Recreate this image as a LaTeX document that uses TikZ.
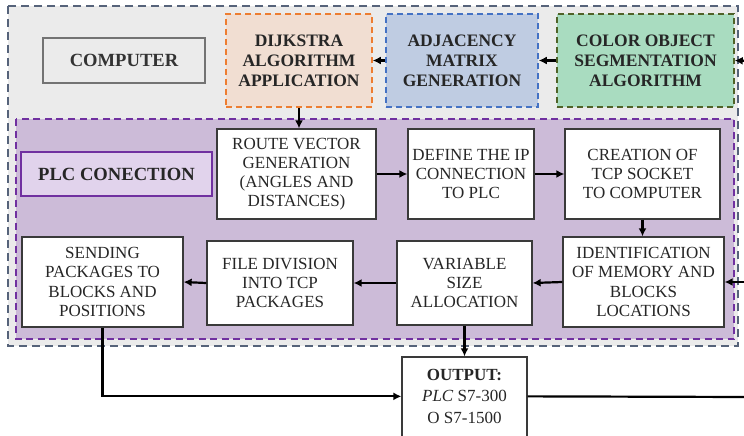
\documentclass[tikz,border=0pt]{standalone}
\usepackage{fontspec}
\setmainfont{Liberation Serif}
\usetikzlibrary{arrows.meta}
\definecolor{outerbg}{HTML}{EBEBEB}
\definecolor{outerln}{HTML}{56637A}
\definecolor{plcbg}{HTML}{CCBBD8}
\definecolor{plcln}{HTML}{7030A0}
\definecolor{plclab}{HTML}{E1D3EC}
\definecolor{orgbg}{HTML}{F1DED2}
\definecolor{orgln}{HTML}{ED7D31}
\definecolor{blubg}{HTML}{BFCCE2}
\definecolor{bluln}{HTML}{4472C4}
\definecolor{grnbg}{HTML}{A9DCC0}
\definecolor{grnln}{HTML}{4F6228}
\definecolor{boxln}{HTML}{3A3A3A}
\tikzset{
  topbox/.style={draw, line width=1.5pt, dash pattern=on 6pt off 4pt, align=center, inner sep=0pt,
    font=\fontsize{17.5}{20}\selectfont\bfseries, text=black!85},
  wbox/.style={draw=boxln, line width=1.3pt, fill=white, align=center, inner sep=0pt,
    font=\fontsize{17}{19.2}\selectfont, text=black!85},
  arr/.style={line width=2.2pt, -{Latex[length=8pt,width=8pt]}},
  ln/.style={line width=2.2pt},
}
\begin{document}
\begin{tikzpicture}[x=1pt,y=-1pt]
\useasboundingbox (0,0) rectangle (744,436);
\clip (0,0) rectangle (744,436);
\fill[white] (0,0) rectangle (744,436);
% regions
\draw[fill=outerbg, draw=outerln, line width=2pt, dash pattern=on 8pt off 5pt] (8,6) rectangle (738,346);
\draw[fill=plcbg, draw=plcln, line width=1.8pt, dash pattern=on 7pt off 4.5pt] (16,119) rectangle (734,339);
% top row
\node[draw=gray!90!black, line width=1.2pt, fill=outerbg, minimum width=162pt, minimum height=45pt,
  font=\fontsize{18.6}{20}\selectfont\bfseries, text=black!80] (computer) at (124,60.5) {COMPUTER};
\node[topbox, draw=orgln, fill=orgbg, minimum width=146pt, minimum height=93pt] (dijkstra) at (299,60.5)
  {DIJKSTRA\\ALGORITHM\\APPLICATION};
\node[topbox, draw=bluln, fill=blubg, minimum width=152pt, minimum height=93pt] (adjacency) at (462,60.5)
  {ADJACENCY\\MATRIX\\GENERATION};
\node[topbox, draw=grnln, fill=grnbg, minimum width=177pt, minimum height=93pt] (color) at (645.5,60.5)
  {COLOR OBJECT\\SEGMENTATION\\ALGORITHM};
% PLC label
\node[draw=plcln, line width=1.2pt, fill=plclab, minimum width=191pt, minimum height=44pt,
  font=\fontsize{18.6}{20}\selectfont\bfseries, text=black!85] (plclabel) at (116.5,174) {PLC CONECTION};
% middle row
\node[wbox, minimum width=159pt, minimum height=90pt] (route) at (296.5,174)
  {ROUTE VECTOR\\GENERATION\\(ANGLES AND\\DISTANCES)};
\node[wbox, minimum width=126pt, minimum height=90pt] (define) at (471,174)
  {DEFINE THE IP\\CONNECTION\\TO PLC};
\node[wbox, minimum width=155pt, minimum height=90pt] (creation) at (642.5,174)
  {CREATION OF\\TCP SOCKET\\TO COMPUTER};
% bottom row
\node[wbox, minimum width=161pt, minimum height=90pt] (ident) at (643.5,282)
  {IDENTIFICATION\\OF MEMORY AND\\BLOCKS\\LOCATIONS};
\node[wbox, minimum width=135pt, minimum height=84pt] (variable) at (464.5,283)
  {VARIABLE\\SIZE\\ALLOCATION};
\node[wbox, minimum width=146pt, minimum height=84pt] (filediv) at (280,283)
  {FILE DIVISION\\INTO TCP\\PACKAGES};
\node[wbox, minimum width=161pt, minimum height=90pt] (sending) at (102.5,282)
  {SENDING\\PACKAGES TO\\BLOCKS AND\\POSITIONS};
% output
\node[draw=boxln, line width=1.3pt, fill=white, minimum width=125pt, minimum height=100pt, inner sep=0pt] (outbox) at (464.5,407) {};
\node[align=center, inner sep=0pt, font=\fontsize{17}{21.5}\selectfont, text=black!85] (outtext) at (464.5,396)
  {\textbf{OUTPUT:}\\\textit{PLC} S7-300\\O S7-1500};
% helper coordinates
\coordinate (rin1) at (748,61);
\coordinate (rin2) at (748,282);
\coordinate (rout) at (748,397);
\path (outbox.north west) ++(0,40) coordinate (outin);
\path (outbox.north east) ++(0,40) coordinate (outr);
% connectors
\draw[arr] (rin1) -- (color.east);
\draw[arr] (color.west) -- (adjacency.east);
\draw[arr] (adjacency.west) -- (dijkstra.east);
\draw[arr] (dijkstra.south) -- (dijkstra.south |- route.north);
\draw[arr] (route.east) -- (define.west);
\draw[arr] (define.east) -- (creation.west);
\draw[arr] (creation.south) -- (creation.south |- ident.north);
\draw[arr] (rin2) -- (ident.east);
\draw[arr] (ident.west) -- (variable.east);
\draw[arr] (variable.west) -- (filediv.east);
\draw[arr] (filediv.west) -- (sending.east);
\draw[arr] (variable.south) -- (outbox.north);
\draw[arr] (sending.south) |- (outin);
\draw[ln] (outr) -- (rout);
\end{tikzpicture}
\end{document}
